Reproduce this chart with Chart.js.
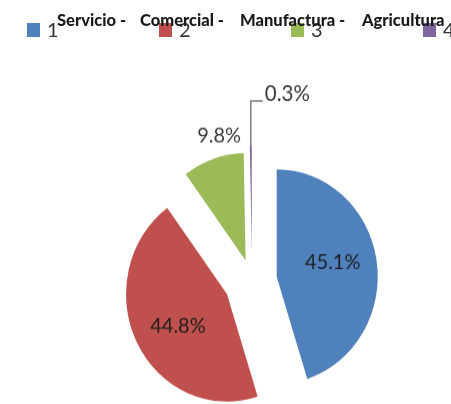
<!DOCTYPE html>
<html>
<head>
<meta charset="utf-8">
<script src="https://cdn.jsdelivr.net/npm/chart.js@4/dist/chart.umd.min.js"></script>
<style>
  html, body { margin: 0; padding: 0; background: #fff; }
  #wrap { position: relative; width: 451px; height: 404px; overflow: hidden; }
  #pie { position: absolute; left: 0; top: 0; }
  .legend { position: absolute; left: 27px; top: 22px; display: flex; font-family: Lato, sans-serif; }
  .legend .item { width: 132px; display: flex; align-items: flex-end; }
  .legend .box { width: 13px; height: 14px; }
  .legend .txt { margin-left: 7px; font-size: 20px; line-height: 15px; color: #333; }
  .names span { position: absolute; top: 10px; font-family: Lato, sans-serif; font-weight: 900; font-size: 16.5px; color: #1a1a1a; white-space: pre; }
</style>
</head>
<body>
<div id="wrap">
  <!-- drawn at 380px tall and stretched to 404px, like the source picture -->
  <canvas id="pie" width="451" height="380" style="width:451px;height:404px"></canvas>
  <div class="legend" id="legend"></div>
  <div class="names" id="names"></div>
</div>
<script>
const categories = ['Servicio', 'Comercial', 'Manufactura', 'Agricultura'];
const legendLabels = ['1', '2', '3', '4'];
const shares = [45.1, 44.8, 9.8, 0.3];

const colors = ['#4F81BD', '#C0504D', '#9BBB59', '#8064A2'];
const explode = [25, 28, 20, 26];
const nameLeft = [57, 140, 240, 362];

// legend boxes + the category names laid over them
const legendEl = document.getElementById('legend');
legendLabels.forEach((lbl, i) => {
  const item = document.createElement('div');
  item.className = 'item';
  item.innerHTML = '<div class="box" style="background:' + colors[i] + '"></div><div class="txt">' + lbl + '</div>';
  legendEl.appendChild(item);
});
const namesEl = document.getElementById('names');
categories.forEach((c, i) => {
  const s = document.createElement('span');
  s.textContent = i < categories.length - 1 ? c + ' -' : c;
  s.style.left = nameLeft[i] + 'px';
  namesEl.appendChild(s);
});

// push each slice out along its middle angle
const explodePlugin = {
  id: 'explode',
  afterDatasetUpdate(chart, args) {
    const meta = chart.getDatasetMeta(args.index);
    meta.data.forEach((arc, i) => {
      const mid = (arc.startAngle + arc.endAngle) / 2;
      arc.x += Math.cos(mid) * explode[i];
      arc.y += Math.sin(mid) * explode[i];
    });
  }
};

const labelPlugin = {
  id: 'pctLabels',
  afterDatasetsDraw(chart) {
    const ctx = chart.ctx;
    const meta = chart.getDatasetMeta(0);
    ctx.save();
    ctx.font = '20px Lato, sans-serif';
    meta.data.forEach((arc, i) => {
      const v = shares[i];
      const txt = v.toFixed(1) + '%';
      const mid = (arc.startAngle + arc.endAngle) / 2;
      const R = arc.outerRadius;
      if (v > 20) {
        const a = mid - 4.5 * Math.PI / 180;
        ctx.fillStyle = '#1f1f1f';
        ctx.textAlign = 'center';
        ctx.textBaseline = 'middle';
        ctx.fillText(txt, arc.x + Math.cos(a) * R * 0.57, arc.y + Math.sin(a) * R * 0.57);
      } else if (v > 1) {
        const a = mid + 6 * Math.PI / 180;
        ctx.fillStyle = '#3a3a3a';
        ctx.textAlign = 'center';
        ctx.textBaseline = 'middle';
        ctx.fillText(txt, arc.x + Math.cos(a) * R * 1.19, arc.y + Math.sin(a) * R * 1.19);
      } else {
        const x0 = arc.x + Math.cos(mid) * R;
        const y0 = arc.y + Math.sin(mid) * R;
        const yTop = y0 - 42;
        ctx.strokeStyle = '#7f7f7f';
        ctx.lineWidth = 1.5;
        ctx.beginPath();
        ctx.moveTo(x0, y0);
        ctx.lineTo(x0, yTop);
        ctx.lineTo(x0 + 12, yTop);
        ctx.stroke();
        ctx.fillStyle = '#3a3a3a';
        ctx.textAlign = 'left';
        ctx.textBaseline = 'alphabetic';
        ctx.font = '20.5px Lato, sans-serif';
        ctx.fillText(txt, x0 + 14, yTop);
      }
    });
    ctx.restore();
  }
};

new Chart(document.getElementById('pie'), {
  type: 'pie',
  data: {
    labels: categories,
    datasets: [{
      data: shares,
      backgroundColor: colors,
      borderWidth: 0
    }]
  },
  options: {
    responsive: false,
    animation: false,
    radius: 101,
    layout: { padding: { left: 53, right: 0, top: 148, bottom: 0 } },
    plugins: {
      legend: { display: false },
      tooltip: { enabled: false }
    }
  },
  plugins: [explodePlugin, labelPlugin]
});
</script>
</body>
</html>
